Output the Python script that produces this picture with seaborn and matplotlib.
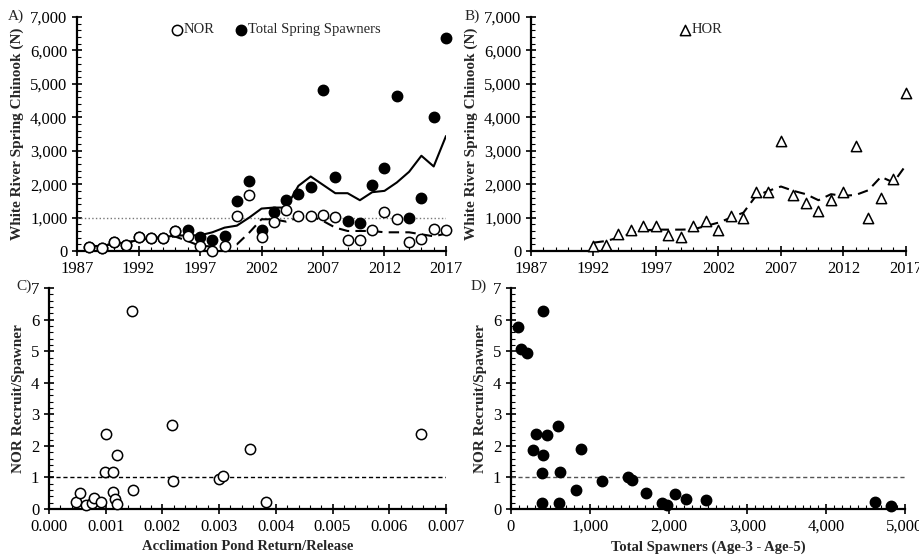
import numpy as np
import pandas as pd
import matplotlib.pyplot as plt
import seaborn as sns
from matplotlib.ticker import MultipleLocator, FuncFormatter

# spawner counts by year (panel A)
years = list(range(1988, 2018))
total_spawners = [120, 90, 280, 190, 420, 390, 380, 610, 640, 420, 320, 460, 1490, 2085, 620,
                  1160, 1535, 1715, 1925, 4825, 2225, 890, 830, 1985, 2480, 4625, 1000, 1585, 4000, 6370]
nor = [120, 80, 280, 190, 420, 390, 380, 600, 460, 140, 10, 140, 1060, 1685, 430,
       860, 1240, 1040, 1060, 1080, 1020, 340, 340, 640, 1170, 970, 270, 360, 650, 640]
total_mean = [150, 150, 220, 250, 330, 380, 420, 460, 470, 470, 560, 700, 760, 1000, 1270,
              1300, 1300, 1950, 2230, 1980, 1730, 1730, 1520, 1760, 1800, 2050, 2370, 2850, 2530, 3440]
nor_mean = [150, 150, 220, 250, 330, 380, 420, 430, 300, 150, 140, 150, 200, 550, 950,
            950, 880, 1000, 1050, 900, 700, 600, 600, 600, 560, 560, 560, 500, 440, 520]

# hatchery origin (panel B)
hor_years = list(range(1992, 2018))
hor = [140, 190, 500, 640, 740, 740, 490, 420, 740, 890, 640, 1060, 1000, 1765, 1765,
       3280, 1685, 1425, 1205, 1515, 1755, 3130, 1000, 1585, 2150, 4725]
hor_mean = [250, 300, 400, 530, 620, 640, 640, 640, 650, 750, 850, 1000, 1150, 1650, 1800,
            1930, 1800, 1700, 1520, 1700, 1650, 1680, 1820, 2220, 2050, 2570]

# panel C
pond_return = [0.00048, 0.00054, 0.00065, 0.00076, 0.00079, 0.00092, 0.00100, 0.00099, 0.00113,
               0.00113, 0.00117, 0.00120, 0.00120, 0.00146, 0.00148, 0.00217, 0.00218, 0.00299,
               0.00307, 0.00355, 0.00382, 0.00656]
rps_c = [0.21, 0.51, 0.13, 0.20, 0.35, 0.21, 2.37, 1.16, 1.16, 0.54, 0.31, 0.15, 1.72, 6.28,
         0.59, 2.65, 0.90, 0.94, 1.05, 1.90, 0.23, 2.39]

# panel D
spawners_d = [85, 127, 199, 406, 275, 321, 456, 406, 393, 393, 596, 625, 609, 824, 888, 1154,
              1479, 1530, 1720, 1915, 1978, 2084, 2223, 2472, 4620, 4818]
rps_d = [5.77, 5.07, 4.95, 6.27, 1.88, 2.38, 2.35, 1.72, 1.15, 0.18, 2.64, 1.16, 0.18, 0.59,
         1.89, 0.88, 1.02, 0.93, 0.52, 0.19, 0.14, 0.48, 0.33, 0.29, 0.23, 0.11]

sns.set_style("ticks")
plt.rcParams['font.family'] = ['Liberation Serif', 'DejaVu Serif']
plt.rcParams['font.size'] = 11

fig = plt.figure(figsize=(9.19, 5.55), dpi=100)
axA = fig.add_axes([0.0838, 0.5477, 0.4015, 0.4216])
axB = fig.add_axes([0.5778, 0.5477, 0.408, 0.4216])
axC = fig.add_axes([0.0533, 0.0829, 0.432, 0.398])
axD = fig.add_axes([0.556, 0.0829, 0.4287, 0.398])

comma = FuncFormatter(lambda v, p: f"{int(v):,}")
mk = dict(s=55, edgecolor='black', linewidth=1.1, zorder=3)
dash = (0, (5, 3))

# A
dfA = pd.DataFrame({'year': years, 'total': total_spawners, 'nor': nor,
                    'total_mean': total_mean, 'nor_mean': nor_mean})
axA.axhline(1000, color='#777777', ls=':', lw=1, zorder=1)
sns.lineplot(data=dfA, x='year', y='total_mean', ax=axA, color='black', lw=1.5, zorder=2)
sns.lineplot(data=dfA, x='year', y='nor_mean', ax=axA, color='black', lw=1.5, ls=dash, zorder=2)
sns.scatterplot(data=dfA, x='year', y='total', ax=axA, color='black', label='Total Spring Spawners', **mk)
sns.scatterplot(data=dfA, x='year', y='nor', ax=axA, color='white', label='NOR', **mk)
h, l = axA.get_legend_handles_labels()
axA.legend(h[::-1], l[::-1], loc='upper center', bbox_to_anchor=(0.54, 1.03), ncol=2, frameon=False,
           handlelength=0.7, handletextpad=0.1, columnspacing=1.5, fontsize=10.5)

# B
dfB = pd.DataFrame({'year': hor_years, 'hor': hor, 'hor_mean': hor_mean})
sns.lineplot(data=dfB, x='year', y='hor_mean', ax=axB, color='black', lw=1.5, ls=dash, zorder=2)
sns.scatterplot(data=dfB, x='year', y='hor', ax=axB, color='white', marker='^', label='HOR', **mk)
axB.legend(loc='upper center', bbox_to_anchor=(0.455, 1.03), frameon=False,
           handlelength=0.7, handletextpad=0.1, fontsize=10.5)

for ax in (axA, axB):
    ax.set_xlim(1987, 2017)
    ax.set_ylim(0, 7000)
    ax.set_xticks(list(range(1987, 2018, 5)))
    ax.xaxis.set_minor_locator(MultipleLocator(1))
    ax.yaxis.set_major_locator(MultipleLocator(1000))
    ax.yaxis.set_minor_locator(MultipleLocator(200))
    ax.yaxis.set_major_formatter(comma)
    ax.set_xlabel('')
    ax.set_ylabel('White River Spring Chinook (N)', fontweight='bold', fontsize=11)

# C
dfC = pd.DataFrame({'ret': pond_return, 'rps': rps_c})
axC.axhline(1, color='black', ls=(0, (3, 2)), lw=1, zorder=1)
sns.scatterplot(data=dfC, x='ret', y='rps', ax=axC, color='white', **mk)
axC.set_xlim(0, 0.007)
axC.xaxis.set_major_locator(MultipleLocator(0.001))
axC.xaxis.set_minor_locator(MultipleLocator(0.0002))
axC.xaxis.set_major_formatter(FuncFormatter(lambda v, p: f"{v:.3f}"))
axC.set_xlabel('Acclimation Pond Return/Release', fontweight='bold', fontsize=10.5)

# D
dfD = pd.DataFrame({'sp': spawners_d, 'rps': rps_d})
axD.axhline(1, color='#555555', ls=(0, (3, 2)), lw=1, zorder=1)
sns.scatterplot(data=dfD, x='sp', y='rps', ax=axD, color='black', **mk)
axD.set_xlim(0, 5000)
axD.xaxis.set_major_locator(MultipleLocator(1000))
axD.xaxis.set_minor_locator(MultipleLocator(100))
axD.xaxis.set_major_formatter(comma)
axD.set_xlabel('Total Spawners (Age-3 - Age-5)', fontweight='bold', fontsize=10.5)

for ax in (axC, axD):
    ax.set_ylim(0, 7)
    ax.yaxis.set_major_locator(MultipleLocator(1))
    ax.yaxis.set_minor_locator(MultipleLocator(0.2))
    ax.set_ylabel('NOR Recruit/Spawner', fontweight='bold', fontsize=11)

for ax in (axA, axB, axC, axD):
    sns.despine(ax=ax)
    for s in ('left', 'bottom'):
        ax.spines[s].set_linewidth(1.6)
        ax.spines[s].set_color('black')
    ax.tick_params(which='major', direction='inout', length=7, width=1.2, labelsize=12, colors='black')
    ax.tick_params(which='minor', direction='in', length=3, width=0.8, colors='black')
    for c in ax.collections:
        c.set_clip_on(False)

fig.text(0.008, 0.965, 'A)', fontsize=11)
fig.text(0.506, 0.965, 'B)', fontsize=11)
fig.text(0.018, 0.478, 'C)', fontsize=11)
fig.text(0.512, 0.478, 'D)', fontsize=11)

fig.savefig('out.png', dpi=100)
